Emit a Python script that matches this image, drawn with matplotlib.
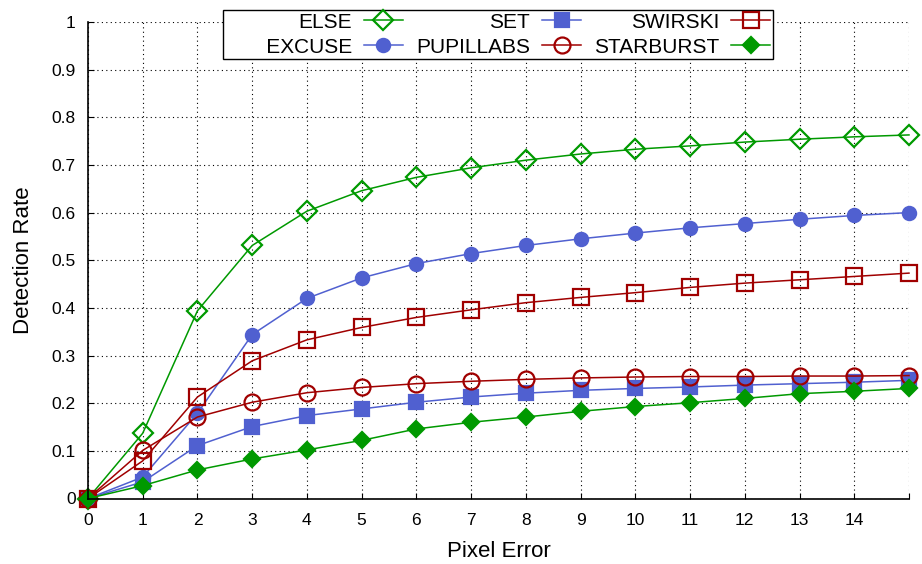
#!/usr/bin/env python
# -*- coding: utf-8 -*-
import numpy
from matplotlib import pyplot

pyplot.rcParams['font.family'] = ['Liberation Sans', 'DejaVu Sans']

# pixel error thresholds
pixel_error = list(range(16))

# detection rate per algorithm, one value per pixel error
else_rate = [0, 0.137, 0.394, 0.531, 0.603, 0.646, 0.674, 0.694, 0.710,
             0.723, 0.733, 0.740, 0.748, 0.754, 0.759, 0.763]
excuse_rate = [0, 0.045, 0.179, 0.344, 0.420, 0.463, 0.493, 0.514, 0.531,
               0.545, 0.557, 0.568, 0.577, 0.586, 0.594, 0.600]
set_rate = [0, 0.035, 0.111, 0.151, 0.174, 0.188, 0.202, 0.213, 0.221,
            0.227, 0.231, 0.234, 0.238, 0.241, 0.244, 0.248]
pupillabs_rate = [0, 0.101, 0.171, 0.202, 0.222, 0.233, 0.241, 0.246, 0.250,
                  0.253, 0.255, 0.256, 0.256, 0.257, 0.257, 0.258]
swirski_rate = [0, 0.079, 0.213, 0.289, 0.333, 0.359, 0.380, 0.396, 0.411,
                0.422, 0.432, 0.443, 0.452, 0.459, 0.466, 0.473]
starburst_rate = [0, 0.027, 0.060, 0.083, 0.102, 0.122, 0.146, 0.160, 0.171,
                  0.183, 0.193, 0.201, 0.210, 0.220, 0.225, 0.231]

x_ticks = list(range(16))
x_tick_labels = [str(i) for i in range(15)] + ['']
y_ticks = [i / 10.0 for i in range(11)]
y_tick_labels = ['0', '0.1', '0.2', '0.3', '0.4', '0.5', '0.6', '0.7', '0.8', '0.9', '1']

GREEN = '#009900'
BLUE = '#5060D0'
RED = '#A00000'

# (label, values, color, marker, size, filled)
# leading spaces on EXCUSE widen the first key column like gnuplot does
SERIES = [
    ('ELSE', else_rate, GREEN, 'D', 10.5, False),
    (u'       EXCUSE', excuse_rate, BLUE, 'o', 9.5, True),
    ('SET', set_rate, BLUE, 's', 9.5, True),
    ('PUPILLABS', pupillabs_rate, RED, 'o', 11.5, False),
    ('SWIRSKI', swirski_rate, RED, 's', 12, False),
    ('STARBURST', starburst_rate, GREEN, 'D', 8.5, True),
]


def plot_rates(ax):
    for label, values, color, marker, size, filled in SERIES:
        ax.plot(pixel_error, values, '-', color=color, lw=1.1,
                marker=marker, markersize=size, markeredgewidth=1.6,
                markerfacecolor=color if filled else 'none',
                markeredgecolor=color, label=label, clip_on=False)


def main():
    f = pyplot.figure(figsize=(9.22, 5.64), dpi=100)
    ax = f.add_axes([88 / 922., 65.5 / 564., 821 / 922., 476.5 / 564.])

    plot_rates(ax)

    ax.set_xlim(0, 15)
    ax.set_ylim(0, 1)
    ax.set_xticks(x_ticks)
    ax.set_xticklabels(x_tick_labels)
    ax.set_yticks(y_ticks)
    ax.set_yticklabels(y_tick_labels)
    ax.tick_params(direction='in', length=4, width=0.8, labelsize=12.5)
    ax.tick_params(axis='x', pad=10.5)
    ax.tick_params(axis='y', pad=9)

    ax.grid(True, color='black', lw=0.8, linestyle=(0, (1, 3)))
    ax.set_axisbelow(True)
    ax.spines['top'].set_visible(False)
    ax.spines['right'].set_visible(False)
    ax.spines['left'].set_linewidth(1.2)
    ax.spines['bottom'].set_linewidth(1.2)

    ax.set_xlabel(u'Pixel Error', fontsize=16, va='center')
    ax.set_ylabel(u'Detection Rate', fontsize=16, va='center')
    ax.xaxis.set_label_coords(0.5, -0.112)
    ax.yaxis.set_label_coords(-0.079, 0.5)

    leg = ax.legend(loc='upper center', ncol=3, markerfirst=False,
                    bbox_to_anchor=(498 / 922., 1 - 10 / 564.),
                    bbox_transform=f.transFigure, fontsize=15,
                    handlelength=1.87, handletextpad=0.58, columnspacing=0.63,
                    labelspacing=0.29, borderpad=0.12, borderaxespad=0,
                    fancybox=False, framealpha=1, edgecolor='black')
    leg.get_frame().set_linewidth(1.0)

    f.savefig('out.png', dpi=100)


if __name__ == '__main__':
    main()
